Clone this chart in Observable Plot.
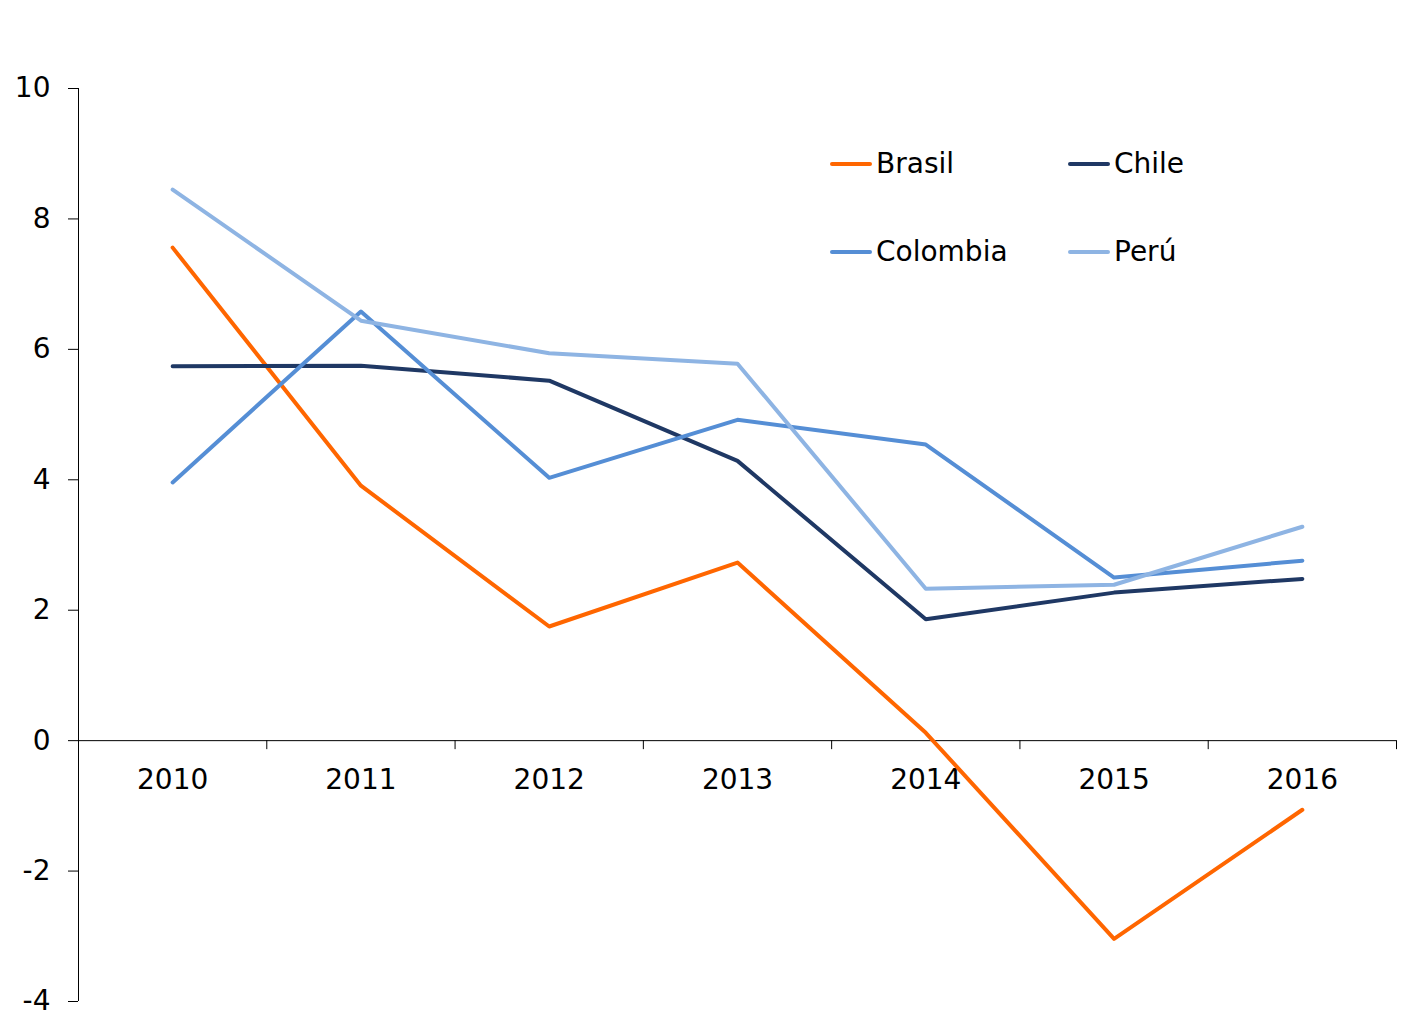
<!DOCTYPE html>
<html>
<head>
<meta charset="utf-8">
<script src="https://cdn.jsdelivr.net/npm/d3@7"></script>
<script src="https://cdn.jsdelivr.net/npm/@observablehq/plot@0.6"></script>
<style>
  body { margin: 0; background: #fff; font-family: "DejaVu Sans", Verdana, sans-serif; }
  #wrap { position: relative; width: 1419px; height: 1030px; }
  #legend { position: absolute; left: 830px; top: 142px; display: grid;
            grid-template-columns: 238px 220px; row-gap: 44px; }
  .item { display: flex; align-items: center; height: 44px; font-size: 28px; line-height: 1; color: #000; }
  .sw { width: 42px; height: 4px; margin-right: 4px; border-radius: 2px; }
</style>
</head>
<body>
<div id="wrap"><div id="legend"></div></div>
<script>
const years = [2010, 2011, 2012, 2013, 2014, 2015, 2016];
const countries = ["Brasil", "Chile", "Colombia", "Perú"];
const colors = ["#FF6600", "#1F3864", "#558ED5", "#8EB4E3"];
const brasil   = [7.56, 3.91, 1.75, 2.73, 0.12, -3.04, -1.06];
const chile    = [5.74, 5.75, 5.52, 4.29, 1.86, 2.27, 2.48];
const colombia = [3.96, 6.58, 4.03, 4.92, 4.54, 2.50, 2.76];
const peru     = [8.45, 6.44, 5.94, 5.78, 2.33, 2.39, 3.28];
const yTicks = [-4, -2, 0, 2, 4, 6, 8, 10];

const series = [brasil, chile, colombia, peru];
const rows = [];
countries.forEach((c, k) => years.forEach((yr, i) => rows.push({country: c, year: yr, value: series[k][i]})));

const xDomain = [years[0] - 0.5, years[years.length - 1] + 0.5];
const boundaries = years.map(y => y + 0.5);

const chart = Plot.plot({
  width: 1419,
  height: 1030,
  marginLeft: 78,
  marginRight: 23,
  marginTop: 88,
  marginBottom: 29,
  style: {fontFamily: "'DejaVu Sans', Verdana, sans-serif", color: "#000", background: "#fff"},
  x: {type: "linear", domain: xDomain, axis: null},
  y: {domain: [yTicks[0], yTicks[yTicks.length - 1]]},
  color: {domain: countries, range: colors},
  marks: [
    Plot.ruleX([xDomain[0]], {stroke: "#000", strokeWidth: 1}),
    Plot.axisY(yTicks, {tickSize: 10, tickPadding: 18, fontSize: 28, tickFormat: d => String(d), stroke: "#000", fill: "#000", label: null}),
    Plot.ruleY([0], {stroke: "#000", strokeWidth: 1}),
    Plot.ruleX(boundaries, {x: d => d, y1: 0, y2: 0, insetBottom: -9, stroke: "#000", strokeWidth: 1}),
    Plot.text(years, {x: d => d, y: 0, text: d => String(d), dy: 39, fontSize: 28, fill: "#000"}),
    Plot.line(rows, {x: "year", y: "value", z: "country", stroke: "country", strokeWidth: 4, strokeLinejoin: "round", strokeLinecap: "round"})
  ]
});
const wrap = document.getElementById("wrap");
wrap.insertBefore(chart, wrap.firstChild);

const legend = document.getElementById("legend");
countries.forEach((c, k) => {
  const it = document.createElement("div");
  it.className = "item";
  const sw = document.createElement("span");
  sw.className = "sw";
  sw.style.background = colors[k];
  const t = document.createElement("span");
  t.textContent = c;
  it.appendChild(sw); it.appendChild(t);
  legend.appendChild(it);
});
</script>
</body>
</html>
